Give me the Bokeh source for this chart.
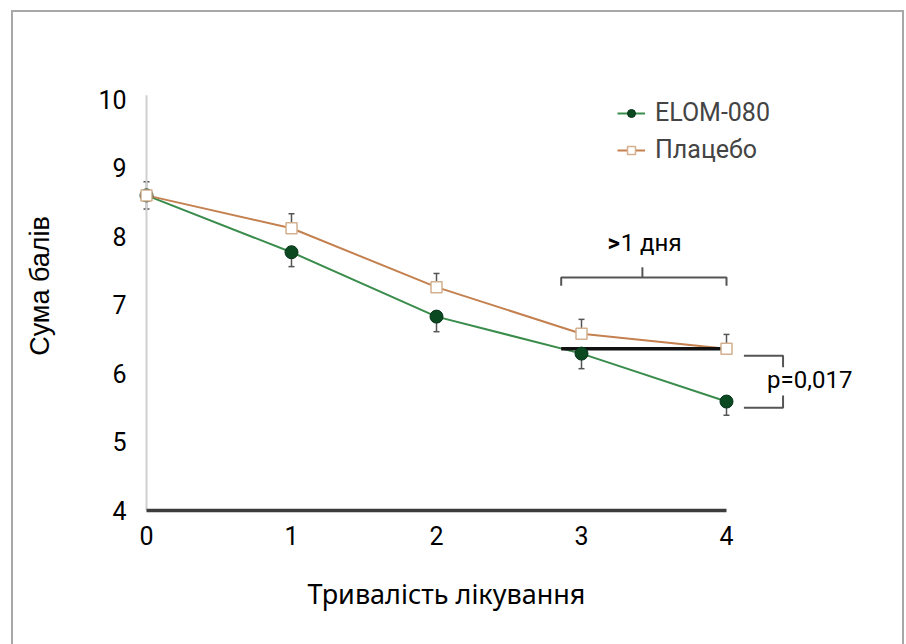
from bokeh.plotting import figure
from bokeh.models import (ColumnDataSource, Legend, LegendItem, Title,
                          Whisker, TeeHead, FixedTicker, Range1d)
from bokeh.core.properties import value
from bokeh.embed import file_html
from bokeh.resources import INLINE

# ---- data ----
days = [0, 1, 2, 3, 4]
elom = [8.6, 7.77, 6.83, 6.29, 5.59]
elom_err = [0.2, 0.21, 0.22, 0.22, 0.2]
placebo = [8.6, 8.12, 7.26, 6.58, 6.36]
placebo_err = [0.2, 0.21, 0.2, 0.21, 0.21]
x_ticks = [0, 1, 2, 3, 4]
y_ticks = [4, 5, 6, 7, 8, 9, 10]
series_names = ["ELOM-080", "Плацебо"]
x_title = "Тривалість лікування"
y_title = "Сума балів"
gap_arrow = ">"
gap_text = "1 дня"
p_text = "p=0,017"

GREEN_LINE = "#3a8c4c"
GREEN_FILL = "#0b4a20"
BROWN_LINE = "#c4804f"
BROWN_EDGE = "#d4b090"
GREY = "#555555"
BOX = "#a8a8a8"

p = figure(width=906, height=644,
           x_range=Range1d(-0.0828, 5.200), y_range=Range1d(3.912, 10.642),
           min_border_left=134, min_border_right=6, min_border_top=55, min_border_bottom=128,
           output_backend="svg", toolbar_location=None)
p.outline_line_color = None
p.grid.visible = False
p.background_fill_color = None
p.border_fill_color = None

# outer open box (left, top, right edges) drawn behind the transparent canvas
p.styles = {
    "background-color": "white",
    "background-image": (f"linear-gradient({BOX},{BOX}), linear-gradient({BOX},{BOX}), "
                         f"linear-gradient({BOX},{BOX})"),
    "background-size": "2px 640px, 893px 2px, 2px 640px",
    "background-position": "11px 10px, 11px 10px, 902px 10px",
    "background-repeat": "no-repeat",
}

for ax in (p.xaxis[0], p.yaxis[0]):
    ax.axis_line_color = None
    ax.major_tick_line_color = None
    ax.minor_tick_line_color = None
    ax.major_label_text_font = "Roboto"
    ax.major_label_text_font_size = "25px"
    ax.major_label_text_color = "black"
    ax.axis_label_text_color = "black"
    ax.axis_label_text_font_style = "normal"

p.xaxis.ticker = FixedTicker(ticks=x_ticks)
p.yaxis.ticker = FixedTicker(ticks=y_ticks)
p.xaxis.major_label_standoff = 3
p.yaxis.major_label_standoff = 2
p.yaxis.axis_label = y_title
p.yaxis.axis_label_text_font = "Liberation Sans"
p.yaxis.axis_label_text_font_size = "27px"
p.yaxis.axis_label_standoff = 40

# x-axis title, centred under the 0..4 axis rather than the whole frame
p.add_layout(Title(text=x_title, align="left", offset=173, standoff=50,
                   text_font="Noto Sans", text_font_size="27px",
                   text_font_style="normal", text_color="black"), "below")

# axis lines
p.segment(x0=[x_ticks[0]], y0=[y_ticks[0]], x1=[x_ticks[0]], y1=[y_ticks[-1] + 0.06],
          line_color="#cfcfcf", line_width=2)
p.segment(x0=[x_ticks[0]], y0=[y_ticks[0]], x1=[x_ticks[-1]], y1=[y_ticks[0]],
          line_color="#3c3c3c", line_width=3.5)

src = ColumnDataSource(dict(x=days, elom=elom, placebo=placebo,
                            e_lo=[v - e for v, e in zip(elom, elom_err)],
                            p_hi=[v + e for v, e in zip(placebo, placebo_err)]))

# error bars
p.add_layout(Whisker(source=src, base="x", lower="placebo", upper="p_hi",
                     line_color=GREY, line_width=1.5, lower_head=None,
                     upper_head=TeeHead(size=6, line_color=GREY, line_width=1.5)))
p.add_layout(Whisker(source=src, base="x", lower="e_lo", upper="elom",
                     line_color=GREY, line_width=1.5, upper_head=None,
                     lower_head=TeeHead(size=6, line_color=GREY, line_width=1.5)))

r_el_line = p.line("x", "elom", source=src, line_color=GREEN_LINE, line_width=2)
r_pl_line = p.line("x", "placebo", source=src, line_color=BROWN_LINE, line_width=2)

# difference line at the placebo endpoint level
p.segment(x0=[2.86], y0=[placebo[-1]], x1=[days[-1]], y1=[placebo[-1]],
          line_color="#111111", line_width=3.5)

r_el_pts = p.scatter("x", "elom", source=src, marker="circle", size=13,
                     fill_color=GREEN_FILL, line_color="#06321a", line_width=1)
r_pl_pts = p.scatter("x", "placebo", source=src, marker="square", size=11,
                     fill_color="white", line_color=BROWN_EDGE, line_width=1.5)

# bracket above ">1 дня"
p.line(x=[2.86, 2.86, 4.0, 4.0], y=[7.28, 7.40, 7.40, 7.28], line_color=GREY, line_width=2)
p.line(x=[3.42, 3.42], y=[7.40, 7.55], line_color=GREY, line_width=2)
p.text(x=[3.18], y=[7.91], text=[gap_arrow], text_font=value("Roboto"),
       text_font_size="24px", text_font_style="bold", text_baseline="middle", text_align="left")
p.text(x=[3.27], y=[7.91], text=[gap_text], text_font=value("Roboto"),
       text_font_size="24px", text_baseline="middle", text_align="left")

# p-value bracket
p.line(x=[4.12, 4.39, 4.39], y=[6.26, 6.26, 6.09], line_color=GREY, line_width=2)
p.line(x=[4.39, 4.39, 4.12], y=[5.68, 5.50, 5.50], line_color=GREY, line_width=2)
p.text(x=[4.28], y=[5.90], text=[p_text], text_font=value("Roboto"),
       text_font_size="24px", text_baseline="middle", text_align="left")

legend = Legend(items=[LegendItem(label=series_names[0], renderers=[r_el_line, r_el_pts]),
                       LegendItem(label=series_names[1], renderers=[r_pl_line, r_pl_pts])],
                location=(483, 352), glyph_width=28, glyph_height=20, label_standoff=10,
                spacing=8, padding=0, margin=0,
                label_text_font="Roboto", label_text_font_size="25px",
                border_line_color=None, background_fill_alpha=0)
p.add_layout(legend)

open("out.html", "w").write(file_html(p, INLINE))
